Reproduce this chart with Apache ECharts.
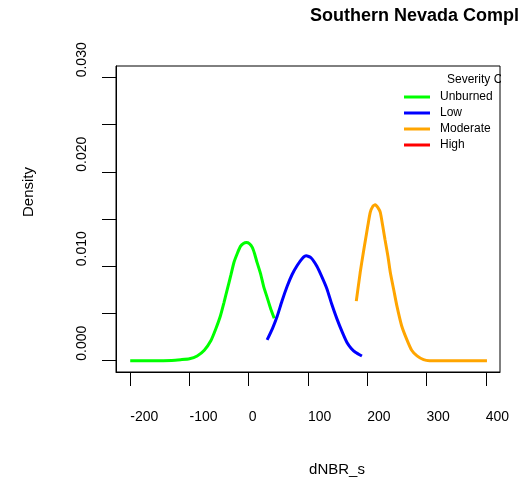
<!DOCTYPE html>
<html>
<head>
<meta charset="utf-8">
<script src="https://cdn.jsdelivr.net/npm/echarts@6/dist/echarts.min.js"></script>
<style>html,body{margin:0;padding:0;background:#fff}#c{width:525px;height:478px}</style>
</head>
<body>
<div id="c"></div>
<script>
var titleText = 'Southern Nevada Compl';
var xName = 'dNBR_s';
var yName = 'Density';
var legendTitle = 'Severity C';
var seriesNames = ['Unburned', 'Low', 'Moderate', 'High'];
var seriesColors = ['#00FF00', '#0000FF', '#FFA500', '#FF0000'];
var xTicks = [-200, -100, 0, 100, 200, 300, 400];
var yTicks = [0, 0.005, 0.01, 0.015, 0.02, 0.025, 0.03];
var yLabels = [0, 0.01, 0.02, 0.03];

var unburned = [[-200,0],[-160,0],[-130,0.00003],[-115,0.0001],[-100,0.0002],[-87,0.0005],[-75,0.0011],[-64,0.0021],[-56,0.0033],[-48,0.0047],[-42,0.0061],[-36,0.0076],[-30,0.0091],[-25,0.0104],[-19,0.0114],[-14,0.0121],[-9,0.0124],[-4,0.0125],[1,0.0124],[6,0.0120],[10,0.0113],[14,0.0104],[20,0.0092],[25,0.0079],[31,0.0067],[37,0.0055],[43,0.0045]];
var low = [[31,0.0022],[40,0.0034],[48,0.0047],[56,0.0063],[65,0.0079],[73,0.0091],[82,0.0101],[90,0.0108],[97,0.0111],[105,0.0109],[115,0.0100],[124,0.0088],[132,0.0076],[140,0.0060],[149,0.0044],[158,0.0030],[166,0.0019],[173,0.0013],[180,0.0009],[191,0.0005]];
var moderate = [[181.5,0.0063],[188,0.0093],[193,0.0113],[197,0.0128],[201,0.0143],[205,0.0157],[209,0.0163],[213.5,0.0165],[218,0.0162],[222,0.0157],[226,0.0143],[230,0.0128],[235,0.0110],[239,0.0093],[245,0.0074],[250,0.0058],[258,0.0037],[267,0.0022],[275,0.0011],[284,0.0005],[295,0.0001],[305,0],[350,0],[402,0]];
var high = [];
var seriesData = [unburned, low, moderate, high];

var chart = echarts.init(document.getElementById('c'), null, {renderer: 'canvas'});
var font = 'Liberation Sans, Arial, Helvetica, sans-serif';
chart.setOption({
  animation: false,
  backgroundColor: '#fff',
  grid: {left: 116, top: 66, width: 384, height: 306, show: true, borderColor: '#000', borderWidth: 1, containLabel: false},
  xAxis: {
    type: 'value', min: -224, max: 424,
    axisLine: {show: true, onZero: false, lineStyle: {color: '#000', width: 1}},
    axisTick: {show: true, inside: false, length: 14, lineStyle: {color: '#000', width: 1}, customValues: xTicks},
    axisLabel: {show: true, customValues: xTicks, align: 'left', margin: 38, color: '#000', fontSize: 14, fontFamily: font},
    splitLine: {show: false}
  },
  yAxis: {
    type: 'value', min: -0.0012, max: 0.0312,
    axisLine: {show: true, onZero: false, lineStyle: {color: '#000', width: 1}},
    axisTick: {show: true, inside: false, length: 14, lineStyle: {color: '#000', width: 1}, customValues: yTicks},
    axisLabel: {show: true, customValues: yLabels, rotate: 90, align: 'left', verticalAlign: 'middle', margin: 34, color: '#000', fontSize: 14, fontFamily: font,
      formatter: function (v) { return v.toFixed(3); }},
    splitLine: {show: false}
  },
  legend: {
    orient: 'vertical', left: 404, top: 90, padding: 0, itemWidth: 26, itemHeight: 3, itemGap: 2, icon: 'rect',
    data: seriesNames,
    textStyle: {color: '#000', fontSize: 12, fontFamily: font, lineHeight: 14, padding: [0, 0, 0, 5]}
  },
  series: seriesNames.map(function (n, i) {
    return {name: n, type: 'line', data: seriesData[i], showSymbol: false, symbol: 'none', smooth: 0.2,
      color: seriesColors[i], lineStyle: {color: seriesColors[i], width: 3}, itemStyle: {color: seriesColors[i]}};
  }),
  graphic: [
    {type: 'text', left: 310, top: 7, style: {text: titleText, fill: '#000', font: 'bold 18px ' + font}},
    {type: 'text', x: 337, y: 470, style: {text: xName, fill: '#000', font: '15px ' + font, align: 'center', verticalAlign: 'middle'}},
    {type: 'text', x: 29, y: 192, rotation: Math.PI / 2, style: {text: yName, fill: '#000', font: '15px ' + font, align: 'center', verticalAlign: 'middle'}},
    {type: 'text', x: 447, y: 80, z: 10, style: {text: legendTitle, fill: '#000', font: '12px ' + font, align: 'left', verticalAlign: 'middle'}},
    {type: 'rect', shape: {x: 501, y: 70, width: 24, height: 20}, z: 11, style: {fill: '#fff'}}
  ]
});
</script>
</body>
</html>
